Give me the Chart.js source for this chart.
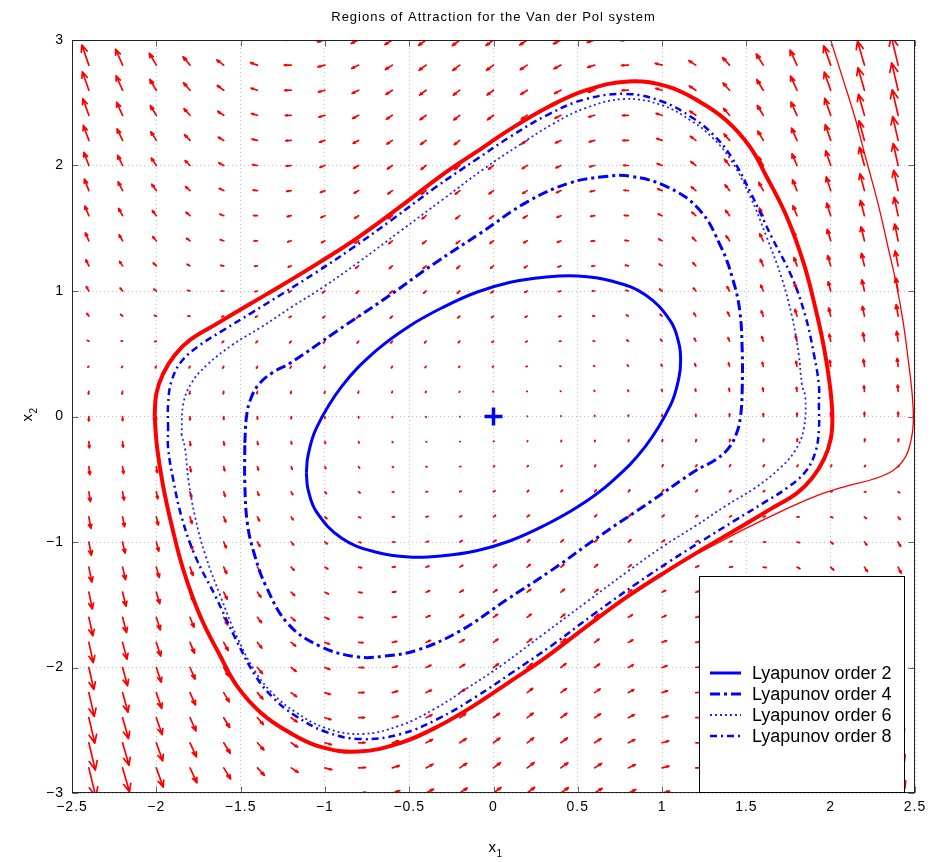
<!DOCTYPE html>
<html>
<head>
<meta charset="utf-8">
<title>Regions of Attraction for the Van der Pol system</title>
<script src="https://cdn.jsdelivr.net/npm/chart.js@4.4.1/dist/chart.umd.min.js"></script>
<style>
    html, body { margin: 0; padding: 0; background: #fff; }
    #wrap { width: 938px; height: 862px; }
</style>
</head>
<body>
<div id="wrap"><canvas id="myChart" width="938" height="862"></canvas></div>
<script>
/* data */

const titleText = "Regions of Attraction for the Van der Pol system";
const xTicks = [-2.5, -2, -1.5, -1, -0.5, 0, 0.5, 1, 1.5, 2, 2.5];
const yTicks = [-3, -2, -1, 0, 1, 2, 3];

// quiver grid (base points of the arrows)
const gridX = [-2.4, -2.2, -2.0, -1.8, -1.6, -1.4, -1.2, -1.0, -0.8, -0.6, -0.4, -0.2, 0, 0.2, 0.4, 0.6, 0.8, 1.0, 1.2, 1.4, 1.6, 1.8, 2.0, 2.2, 2.4];
const gridY = [-3.0, -2.8, -2.6, -2.4, -2.2, -2.0, -1.8, -1.6, -1.4, -1.2, -1.0, -0.8, -0.6, -0.4, -0.2, 0, 0.2, 0.4, 0.6, 0.8, 1.0, 1.2, 1.4, 1.6, 1.8, 2.0, 2.2, 2.4, 2.6, 2.8, 3.0];

// horizontal component, one value per grid row (bottom to top)
const fieldU = [3.0, 2.8, 2.6, 2.4, 2.2, 2.0, 1.8, 1.6, 1.4, 1.2, 1.0, 0.8, 0.6, 0.4, 0.2, 0, -0.2, -0.4, -0.6, -0.8, -1.0, -1.2, -1.4, -1.6, -1.8, -2.0, -2.2, -2.4, -2.6, -2.8, -3.0];

// vertical component, one list per grid column (values bottom to top)
const fieldV = [
    [-16.7,-15.7,-14.8,-13.8,-12.9,-11.9,-11.0,-10.0,-9.1,-8.1,-7.2,-6.2,-5.3,-4.3,-3.4,-2.4,-1.4,-0.5,0.5,1.4,2.4,3.3,4.3,5.2,6.2,7.1,8.1,9.0,10.0,10.9,11.9],
    [-13.7,-13.0,-12.2,-11.4,-10.6,-9.9,-9.1,-8.3,-7.6,-6.8,-6.0,-5.3,-4.5,-3.7,-3.0,-2.2,-1.4,-0.7,0.1,0.9,1.6,2.4,3.2,3.9,4.7,5.5,6.2,7.0,7.8,8.6,9.3],
    [-11.0,-10.4,-9.8,-9.2,-8.6,-8.0,-7.4,-6.8,-6.2,-5.6,-5.0,-4.4,-3.8,-3.2,-2.6,-2.0,-1.4,-0.8,-0.2,0.4,1.0,1.6,2.2,2.8,3.4,4.0,4.6,5.2,5.8,6.4,7.0],
    [-8.5,-8.1,-7.6,-7.2,-6.7,-6.3,-5.8,-5.4,-4.9,-4.5,-4.0,-3.6,-3.1,-2.7,-2.2,-1.8,-1.4,-0.9,-0.5,0.0,0.4,0.9,1.3,1.8,2.2,2.7,3.1,3.6,4.0,4.5,4.9],
    [-6.3,-6.0,-5.7,-5.3,-5.0,-4.7,-4.4,-4.1,-3.8,-3.5,-3.2,-2.8,-2.5,-2.2,-1.9,-1.6,-1.3,-1.0,-0.7,-0.4,0.0,0.3,0.6,0.9,1.2,1.5,1.8,2.1,2.5,2.8,3.1],
    [-4.3,-4.1,-3.9,-3.7,-3.5,-3.3,-3.1,-2.9,-2.7,-2.6,-2.4,-2.2,-2.0,-1.8,-1.6,-1.4,-1.2,-1.0,-0.8,-0.6,-0.4,-0.2,-0.1,0.1,0.3,0.5,0.7,0.9,1.1,1.3,1.5],
    [-2.5,-2.4,-2.3,-2.3,-2.2,-2.1,-2.0,-1.9,-1.8,-1.7,-1.6,-1.6,-1.5,-1.4,-1.3,-1.2,-1.1,-1.0,-0.9,-0.8,-0.8,-0.7,-0.6,-0.5,-0.4,-0.3,-0.2,-0.1,-0.1,0.0,0.1],
    [-1.0,-1.0,-1.0,-1.0,-1.0,-1.0,-1.0,-1.0,-1.0,-1.0,-1.0,-1.0,-1.0,-1.0,-1.0,-1.0,-1.0,-1.0,-1.0,-1.0,-1.0,-1.0,-1.0,-1.0,-1.0,-1.0,-1.0,-1.0,-1.0,-1.0,-1.0],
    [0.3,0.2,0.1,0.1,0.0,-0.1,-0.2,-0.2,-0.3,-0.4,-0.4,-0.5,-0.6,-0.7,-0.7,-0.8,-0.9,-0.9,-1.0,-1.1,-1.2,-1.2,-1.3,-1.4,-1.4,-1.5,-1.6,-1.7,-1.7,-1.8,-1.9],
    [1.3,1.2,1.1,0.9,0.8,0.7,0.6,0.4,0.3,0.2,0.0,-0.1,-0.2,-0.3,-0.5,-0.6,-0.7,-0.9,-1.0,-1.1,-1.2,-1.4,-1.5,-1.6,-1.8,-1.9,-2.0,-2.1,-2.3,-2.4,-2.5],
    [2.1,2.0,1.8,1.6,1.4,1.3,1.1,0.9,0.8,0.6,0.4,0.3,0.1,-0.1,-0.2,-0.4,-0.6,-0.7,-0.9,-1.1,-1.2,-1.4,-1.6,-1.7,-1.9,-2.1,-2.2,-2.4,-2.6,-2.8,-2.9],
    [2.7,2.5,2.3,2.1,1.9,1.7,1.5,1.3,1.1,1.0,0.8,0.6,0.4,0.2,0.0,-0.2,-0.4,-0.6,-0.8,-1.0,-1.2,-1.4,-1.5,-1.7,-1.9,-2.1,-2.3,-2.5,-2.7,-2.9,-3.1],
    [3.0,2.8,2.6,2.4,2.2,2.0,1.8,1.6,1.4,1.2,1.0,0.8,0.6,0.4,0.2,0.0,-0.2,-0.4,-0.6,-0.8,-1.0,-1.2,-1.4,-1.6,-1.8,-2.0,-2.2,-2.4,-2.6,-2.8,-3.0],
    [3.1,2.9,2.7,2.5,2.3,2.1,1.9,1.7,1.5,1.4,1.2,1.0,0.8,0.6,0.4,0.2,0.0,-0.2,-0.4,-0.6,-0.8,-1.0,-1.1,-1.3,-1.5,-1.7,-1.9,-2.1,-2.3,-2.5,-2.7],
    [2.9,2.8,2.6,2.4,2.2,2.1,1.9,1.7,1.6,1.4,1.2,1.1,0.9,0.7,0.6,0.4,0.2,0.1,-0.1,-0.3,-0.4,-0.6,-0.8,-0.9,-1.1,-1.3,-1.4,-1.6,-1.8,-2.0,-2.1],
    [2.5,2.4,2.3,2.1,2.0,1.9,1.8,1.6,1.5,1.4,1.2,1.1,1.0,0.9,0.7,0.6,0.5,0.3,0.2,0.1,0.0,-0.2,-0.3,-0.4,-0.6,-0.7,-0.8,-0.9,-1.1,-1.2,-1.3],
    [1.9,1.8,1.7,1.7,1.6,1.5,1.4,1.4,1.3,1.2,1.2,1.1,1.0,0.9,0.9,0.8,0.7,0.7,0.6,0.5,0.4,0.4,0.3,0.2,0.2,0.1,0.0,-0.1,-0.1,-0.2,-0.3],
    [1.0,1.0,1.0,1.0,1.0,1.0,1.0,1.0,1.0,1.0,1.0,1.0,1.0,1.0,1.0,1.0,1.0,1.0,1.0,1.0,1.0,1.0,1.0,1.0,1.0,1.0,1.0,1.0,1.0,1.0,1.0],
    [-0.1,0.0,0.1,0.1,0.2,0.3,0.4,0.5,0.6,0.7,0.8,0.8,0.9,1.0,1.1,1.2,1.3,1.4,1.5,1.6,1.6,1.7,1.8,1.9,2.0,2.1,2.2,2.3,2.3,2.4,2.5],
    [-1.5,-1.3,-1.1,-0.9,-0.7,-0.5,-0.3,-0.1,0.1,0.2,0.4,0.6,0.8,1.0,1.2,1.4,1.6,1.8,2.0,2.2,2.4,2.6,2.7,2.9,3.1,3.3,3.5,3.7,3.9,4.1,4.3],
    [-3.1,-2.8,-2.5,-2.1,-1.8,-1.5,-1.2,-0.9,-0.6,-0.3,0.0,0.4,0.7,1.0,1.3,1.6,1.9,2.2,2.5,2.8,3.2,3.5,3.8,4.1,4.4,4.7,5.0,5.3,5.7,6.0,6.3],
    [-4.9,-4.5,-4.0,-3.6,-3.1,-2.7,-2.2,-1.8,-1.3,-0.9,-0.4,0.0,0.5,0.9,1.4,1.8,2.2,2.7,3.1,3.6,4.0,4.5,4.9,5.4,5.8,6.3,6.7,7.2,7.6,8.1,8.5],
    [-7.0,-6.4,-5.8,-5.2,-4.6,-4.0,-3.4,-2.8,-2.2,-1.6,-1.0,-0.4,0.2,0.8,1.4,2.0,2.6,3.2,3.8,4.4,5.0,5.6,6.2,6.8,7.4,8.0,8.6,9.2,9.8,10.4,11.0],
    [-9.3,-8.6,-7.8,-7.0,-6.2,-5.5,-4.7,-3.9,-3.2,-2.4,-1.6,-0.9,-0.1,0.7,1.4,2.2,3.0,3.7,4.5,5.3,6.0,6.8,7.6,8.3,9.1,9.9,10.6,11.4,12.2,13.0,13.7],
    [-11.9,-10.9,-10.0,-9.0,-8.1,-7.1,-6.2,-5.2,-4.3,-3.3,-2.4,-1.4,-0.5,0.5,1.4,2.4,3.4,4.3,5.3,6.2,7.2,8.1,9.1,10.0,11.0,11.9,12.9,13.8,14.8,15.7,16.7],
];

// true region of attraction (limit cycle), thick red
const limitCycle = [
    [-2.01,0.0],[-2.0,0.18],[-1.96,0.34],[-1.89,0.49],[-1.8,0.61],[-1.64,0.74],[-1.44,0.9],[-1.25,1.05],[-1.03,1.23],[-0.8,1.43],
    [-0.555,1.67],[-0.3,1.93],[-0.1,2.11],[0.1,2.29],[0.33,2.47],[0.55,2.6],[0.8,2.67],[1.03,2.63],[1.22,2.51],[1.38,2.36],
    [1.52,2.15],[1.62,1.91],[1.74,1.59],[1.84,1.22],[1.91,0.86],[1.96,0.55],[1.995,0.25],[2.01,0.0],
    [2.0,-0.18],[1.96,-0.34],[1.89,-0.49],[1.8,-0.61],[1.64,-0.74],[1.44,-0.9],[1.25,-1.05],[1.03,-1.23],[0.8,-1.43],
    [0.555,-1.67],[0.3,-1.93],[0.1,-2.11],[-0.1,-2.29],[-0.33,-2.47],[-0.55,-2.6],[-0.8,-2.67],[-1.03,-2.63],[-1.22,-2.51],[-1.38,-2.36],
    [-1.52,-2.15],[-1.62,-1.91],[-1.74,-1.59],[-1.84,-1.22],[-1.91,-0.86],[-1.96,-0.55],[-1.995,-0.25],[-2.01,0.0],
];

// thin red trajectory on the right, running into the limit cycle
const trajectory = [
    [2.0,3.0],[2.07,2.7],[2.14,2.4],[2.21,2.05],[2.28,1.7],[2.34,1.35],[2.39,1.05],[2.43,0.75],[2.46,0.45],[2.485,0.15],
    [2.49,-0.05],[2.475,-0.2],[2.44,-0.33],[2.37,-0.43],[2.25,-0.5],[2.08,-0.56],[1.9,-0.64],[1.7,-0.76],[1.5,-0.89],
    [1.3,-1.03],[1.1,-1.17],[0.95,-1.29],
];

// Lyapunov level sets
const order2 = [
    [-1.11,-0.45],[-1.1,-0.31],[-1.05,-0.09],[-0.9,0.24],[-0.7,0.52],[-0.5,0.72],[-0.3,0.87],[-0.1,0.99],[0.1,1.07],[0.3,1.11],
    [0.5,1.12],[0.7,1.08],[0.9,0.97],[1.05,0.76],[1.1,0.58],[1.11,0.45],[1.1,0.31],[1.05,0.09],[0.9,-0.24],[0.7,-0.52],
    [0.5,-0.72],[0.3,-0.87],[0.1,-0.99],[-0.1,-1.07],[-0.3,-1.11],[-0.5,-1.12],[-0.7,-1.08],[-0.9,-0.97],[-1.05,-0.76],[-1.1,-0.58],[-1.11,-0.45],
];

const order4 = [
    [-1.475,-0.21],[-1.465,0.0],[-1.44,0.14],[-1.39,0.26],[-1.31,0.35],[-1.2,0.43],[-0.93,0.68],[-0.632,0.95],[-0.35,1.22],[-0.078,1.46],[0.2,1.71],
    [0.45,1.86],[0.65,1.91],[0.81,1.915],[1.03,1.83],[1.22,1.65],[1.35,1.35],[1.42,1.09],[1.46,0.85],[1.475,0.53],[1.475,0.21],
    [1.465,0.0],[1.44,-0.14],[1.39,-0.26],[1.31,-0.35],[1.2,-0.43],[0.93,-0.68],[0.632,-0.95],[0.35,-1.22],[0.078,-1.46],[-0.2,-1.71],
    [-0.45,-1.86],[-0.65,-1.91],[-0.81,-1.915],[-1.03,-1.83],[-1.22,-1.65],[-1.35,-1.35],[-1.42,-1.09],[-1.46,-0.85],[-1.475,-0.53],[-1.475,-0.21],
];

const order6 = [
    [-1.85,-0.15],[-1.84,0.1],[-1.79,0.27],[-1.7,0.41],[-1.55,0.57],[-1.38,0.71],[-1.2,0.87],[-1.0,1.04],[-0.8,1.23],[-0.55,1.48],
    [-0.3,1.73],[-0.05,1.98],[0.15,2.16],[0.35,2.33],[0.55,2.46],[0.78,2.53],[1.0,2.48],[1.18,2.35],[1.3,2.22],[1.41,2.04],
    [1.52,1.76],[1.62,1.43],[1.71,1.1],[1.77,0.8],[1.81,0.5],[1.83,0.25],[1.85,0.15],
    [1.84,-0.1],[1.79,-0.27],[1.7,-0.41],[1.55,-0.57],[1.38,-0.71],[1.2,-0.87],[1.0,-1.04],[0.8,-1.23],[0.55,-1.48],
    [0.3,-1.73],[0.05,-1.98],[-0.15,-2.16],[-0.35,-2.33],[-0.55,-2.46],[-0.78,-2.53],[-1.0,-2.48],[-1.18,-2.35],[-1.3,-2.22],[-1.41,-2.04],
    [-1.52,-1.76],[-1.62,-1.43],[-1.71,-1.1],[-1.77,-0.8],[-1.81,-0.5],[-1.83,-0.25],[-1.85,-0.15],
];

const order8 = [
    [-1.93,-0.1],[-1.93,0.1],[-1.91,0.28],[-1.85,0.44],[-1.74,0.57],[-1.6,0.69],[-1.43,0.83],[-1.25,0.98],[-1.05,1.15],[-0.85,1.33],
    [-0.6,1.57],[-0.35,1.82],[-0.1,2.05],[0.1,2.23],[0.33,2.41],[0.55,2.53],[0.79,2.57],[1.0,2.51],[1.18,2.38],[1.3,2.25],
    [1.41,2.07],[1.53,1.77],[1.65,1.43],[1.77,1.11],[1.85,0.8],[1.9,0.5],[1.93,0.25],[1.93,0.1],
    [1.93,-0.1],[1.91,-0.28],[1.85,-0.44],[1.74,-0.57],[1.6,-0.69],[1.43,-0.83],[1.25,-0.98],[1.05,-1.15],[0.85,-1.33],
    [0.6,-1.57],[0.35,-1.82],[0.1,-2.05],[-0.1,-2.23],[-0.33,-2.41],[-0.55,-2.53],[-0.79,-2.57],[-1.0,-2.51],[-1.18,-2.38],[-1.3,-2.25],
    [-1.41,-2.07],[-1.53,-1.77],[-1.65,-1.43],[-1.77,-1.11],[-1.85,-0.8],[-1.9,-0.5],[-1.93,-0.25],[-1.93,-0.1],
];

const equilibrium = [[0, 0]];

/* styles */

const FONT = '"Liberation Sans", Arial, Helvetica, sans-serif';
const RED = '#ff0000';
const BLUE = '#0000ff';
const ARROW_SCALE = 0.0147;   // quiver autoscale
const HEAD_ALPHA = 0.33;
const HEAD_BETA = 0.33;

const toPoints = (pairs) => pairs.map(([x, y]) => ({ x: x, y: y }));
const fmt = (v) => String(v).replace('-', '\u2212');

/* plugins */

// red vector field, drawn under the curves
const quiverPlugin = {
    id: 'quiver',
    beforeDatasetsDraw: function (chart) {
        const { ctx, chartArea: a } = chart;
        const sx = chart.scales.x, sy = chart.scales.y;
        const px = (v) => sx.getPixelForValue(v);
        const py = (v) => sy.getPixelForValue(v);

        ctx.save();
        ctx.beginPath();
        ctx.rect(a.left, a.top, a.right - a.left, a.bottom - a.top);
        ctx.clip();
        ctx.strokeStyle = RED;
        ctx.lineWidth = 1.7;
        ctx.lineCap = 'round';
        ctx.lineJoin = 'round';
        ctx.beginPath();
        gridX.forEach((gx, i) => {
            gridY.forEach((gy, j) => {
                const u = fieldU[j] * ARROW_SCALE;
                const v = fieldV[i][j] * ARROW_SCALE;
                const tx = gx + u, ty = gy + v;
                ctx.moveTo(px(gx), py(gy));
                ctx.lineTo(px(tx), py(ty));
                ctx.moveTo(px(tx - HEAD_ALPHA * (u + HEAD_BETA * v)), py(ty - HEAD_ALPHA * (v - HEAD_BETA * u)));
                ctx.lineTo(px(tx), py(ty));
                ctx.lineTo(px(tx - HEAD_ALPHA * (u - HEAD_BETA * v)), py(ty - HEAD_ALPHA * (v + HEAD_BETA * u)));
            });
        });
        ctx.stroke();
        ctx.restore();
    },
};

// matlab style box with inward ticks
const framePlugin = {
    id: 'frame',
    beforeDraw: function (chart) {
        chart.ctx.letterSpacing = '1px';
    },
    afterDatasetsDraw: function (chart) {
        const { ctx, chartArea: a } = chart;
        const sx = chart.scales.x, sy = chart.scales.y;
        const L = Math.round(a.left) + 0.5, R = Math.round(a.right) - 0.5;
        const T = Math.round(a.top) + 0.5, B = Math.round(a.bottom) - 0.5;
        const len = 6;

        ctx.save();
        ctx.strokeStyle = '#666';
        ctx.lineWidth = 1;
        ctx.beginPath();
        xTicks.forEach((t) => {
            const x = Math.round(sx.getPixelForValue(t)) + 0.5;
            ctx.moveTo(x, B); ctx.lineTo(x, B - len);
            ctx.moveTo(x, T); ctx.lineTo(x, T + len);
        });
        yTicks.forEach((t) => {
            const y = Math.round(sy.getPixelForValue(t)) + 0.5;
            ctx.moveTo(L, y); ctx.lineTo(L + len, y);
            ctx.moveTo(R, y); ctx.lineTo(R - len, y);
        });
        ctx.stroke();

        ctx.strokeStyle = '#222';
        ctx.strokeRect(L, T, R - L, B - T);
        ctx.restore();
    },
};

// legend box in the lower right corner
const legendPlugin = {
    id: 'boxLegend',
    afterDraw: function (chart) {
        const { ctx, chartArea: a } = chart;
        const left = 699.5, top = 576.5, right = a.right - 10.5, bottom = a.bottom - 0.5;

        ctx.save();
        ctx.letterSpacing = '0px';
        ctx.fillStyle = '#fff';
        ctx.fillRect(left, top, right - left, bottom - top);
        ctx.strokeStyle = '#000';
        ctx.lineWidth = 1;
        ctx.strokeRect(left, top, right - left, bottom - top);

        ctx.font = '18px ' + FONT;
        ctx.textBaseline = 'middle';
        chart.data.datasets
            .filter((d) => d.label.startsWith('Lyapunov'))
            .forEach((d, i) => {
                const y = 673 + i * 21;
                ctx.strokeStyle = d.borderColor;
                ctx.lineWidth = d.borderWidth;
                ctx.setLineDash(d.borderDash || []);
                ctx.beginPath();
                ctx.moveTo(710, y);
                ctx.lineTo(741, y);
                ctx.stroke();
                ctx.setLineDash([]);
                ctx.fillStyle = '#000';
                ctx.fillText(d.label, 752, y + 1);
            });
        ctx.restore();
    },
};

// title and axis labels (with subscripts)
const labelPlugin = {
    id: 'labels',
    afterDraw: function (chart) {
        const { ctx, chartArea: a } = chart;
        const cx = (a.left + a.right) / 2;
        const cy = (a.top + a.bottom) / 2;

        ctx.save();
        ctx.fillStyle = '#000';
        ctx.letterSpacing = '1px';
        ctx.textAlign = 'center';
        ctx.textBaseline = 'middle';
        ctx.font = '13px ' + FONT;
        ctx.fillText(titleText, cx, 17);

        ctx.letterSpacing = '0px';
        ctx.textAlign = 'left';
        ctx.textBaseline = 'alphabetic';
        ctx.font = '15px ' + FONT;
        ctx.fillText('x', cx - 5, 852);
        ctx.font = '10px ' + FONT;
        ctx.fillText('1', cx + 3, 857);

        ctx.translate(32, cy + 5);
        ctx.rotate(-Math.PI / 2);
        ctx.font = '15px ' + FONT;
        ctx.fillText('x', 0, 0);
        ctx.font = '10px ' + FONT;
        ctx.fillText('2', 8, 5);
        ctx.restore();
    },
};

/* chart */

const lineStyle = {
    showLine: true,
    pointRadius: 0,
    pointHoverRadius: 0,
    tension: 0.4,
    fill: false,
};

const ctx = document.getElementById('myChart').getContext('2d');

const myChart = new Chart(ctx, {
    type: 'scatter',
    data: {
        datasets: [
            Object.assign({ label: 'limit cycle', data: toPoints(limitCycle), borderColor: RED, borderWidth: 4, order: 10 }, lineStyle),
            Object.assign({ label: 'trajectory', data: toPoints(trajectory), borderColor: RED, borderWidth: 1.3, order: 9 }, lineStyle),
            Object.assign({ label: 'Lyapunov order 2', data: toPoints(order2), borderColor: BLUE, borderWidth: 3, order: 4 }, lineStyle),
            Object.assign({ label: 'Lyapunov order 4', data: toPoints(order4), borderColor: BLUE, borderWidth: 3, borderDash: [10, 4, 3, 4], order: 3 }, lineStyle),
            Object.assign({ label: 'Lyapunov order 6', data: toPoints(order6), borderColor: '#2222ff', borderWidth: 1.8, borderDash: [2, 3], order: 2 }, lineStyle),
            Object.assign({ label: 'Lyapunov order 8', data: toPoints(order8), borderColor: BLUE, borderWidth: 2.5, borderDash: [7, 4, 2, 4], order: 1 }, lineStyle),
            {
                label: 'equilibrium',
                data: toPoints(equilibrium),
                showLine: false,
                pointStyle: 'cross',
                pointRadius: 9,
                pointHoverRadius: 9,
                borderColor: BLUE,
                borderWidth: 3.5,
                order: 0,
            },
        ],
    },
    options: {
        responsive: false,
        devicePixelRatio: 1,
        animation: false,
        events: [],
        layout: { padding: { left: 0, right: 23, top: 40, bottom: 0 } },
        plugins: {
            legend: { display: false },
            title: { display: false },
            tooltip: { enabled: false },
        },
        scales: {
            x: {
                type: 'linear',
                min: -2.5,
                max: 2.5,
                afterFit: (scale) => { scale.height = 69; },
                afterBuildTicks: (scale) => { scale.ticks = xTicks.map((v) => ({ value: v })); },
                grid: { color: '#c4c4c4', lineWidth: 1, drawTicks: false },
                border: { display: false, dash: [1, 3] },
                ticks: {
                    autoSkip: false,
                    maxRotation: 0,
                    padding: 6,
                    color: '#000',
                    font: { family: FONT, size: 14 },
                    callback: (v) => fmt(v),
                },
            },
            y: {
                type: 'linear',
                min: -3,
                max: 3,
                afterFit: (scale) => { scale.width = 72; },
                afterBuildTicks: (scale) => { scale.ticks = yTicks.map((v) => ({ value: v })); },
                grid: { color: '#c4c4c4', lineWidth: 1, drawTicks: false },
                border: { display: false, dash: [1, 3] },
                ticks: {
                    autoSkip: false,
                    padding: 8,
                    color: '#000',
                    font: { family: FONT, size: 14 },
                    callback: (v) => fmt(v),
                },
            },
        },
    },
    plugins: [framePlugin, quiverPlugin, legendPlugin, labelPlugin],
});
</script>
</body>
</html>
